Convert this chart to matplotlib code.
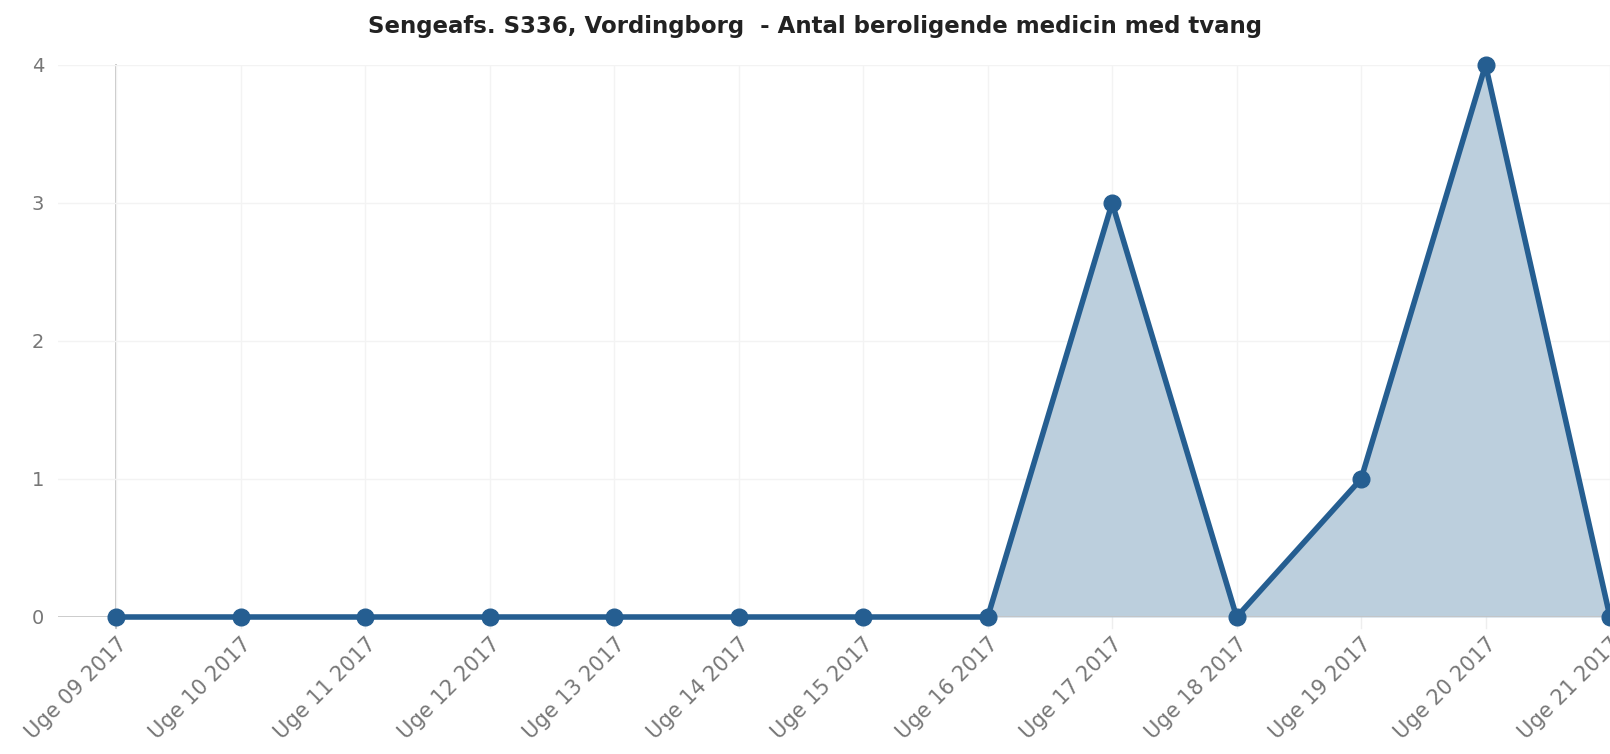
import matplotlib
matplotlib.use('Agg')
import matplotlib.pyplot as plt
import numpy as np

uger = ['Uge 09 2017', 'Uge 10 2017', 'Uge 11 2017', 'Uge 12 2017', 'Uge 13 2017',
        'Uge 14 2017', 'Uge 15 2017', 'Uge 16 2017', 'Uge 17 2017', 'Uge 18 2017',
        'Uge 19 2017', 'Uge 20 2017', 'Uge 21 2017']
antal = [0, 0, 0, 0, 0, 0, 0, 0, 3, 0, 1, 4, 0]
y_ticks = [0, 1, 2, 3, 4]

linje = '#255e91'
fyld = '#bccfdd'

fig = plt.figure(figsize=(16.1, 7.54), dpi=100)
ax = fig.add_axes([58/1610, 1-617/754, 1-58/1610, (617-65)/754])

x = np.arange(len(uger))
ax.fill_between(x, antal, 0, color=fyld, lw=0, zorder=2)
ax.plot(x, antal, color=linje, lw=4, marker='o', ms=12, zorder=4, clip_on=False)

ax.set_xlim(-0.47, len(uger) - 1)
ax.set_ylim(0, 4)
ax.set_yticks(y_ticks)
ax.set_xticks(x)
ax.set_xticklabels(uger, rotation=45, ha='right', va='top', rotation_mode='anchor',
                   color='#777777', fontsize=15)
ax.tick_params(axis='y', length=0, pad=10, labelcolor='#777777', labelsize=14)
ax.tick_params(axis='x', length=0, pad=12)

for s in ax.spines.values():
    s.set_visible(False)
ax.grid(True, color='#f3f3f3', lw=1, zorder=0)
ax.axhline(0, color='#c4c4c4', lw=1.2, zorder=3)
ax.axvline(0, ymin=-0.02, ymax=1, color='#bbbbbb', lw=1.2, zorder=1, clip_on=False)
for xi in x:
    ax.plot([xi, xi], [0, -0.08], color='#eeeeee', lw=1, clip_on=False, zorder=0)

fig.suptitle('Sengeafs. S336, Vordingborg  - Antal beroligende medicin med tvang',
             x=0.506, y=1-26/754, va='center', fontsize=16.5, fontweight='bold', color='#222222')

fig.savefig('out.png', dpi=100)
